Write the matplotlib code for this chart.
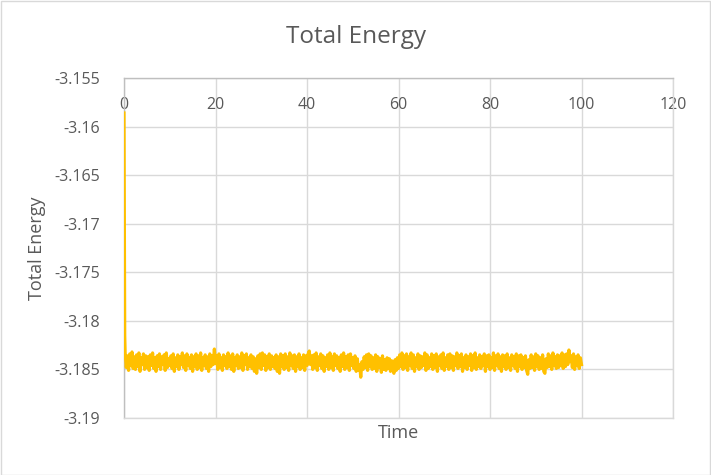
import numpy as np
import matplotlib
matplotlib.use("Agg")
import matplotlib.pyplot as plt
from matplotlib.patches import Rectangle

# ---- data ----
start_time = [0.0, 0.08, 0.16]
start_energy = [-3.1586, -3.1720, -3.1815]

steady_energy = [
    -3.1833, -3.1848, -3.1836, -3.1851, -3.1834, -3.1846, -3.1832, -3.1849, -3.1837, -3.1850,
    -3.1835, -3.1847, -3.1833, -3.1852, -3.1838, -3.1845, -3.1834, -3.1850, -3.1836, -3.1848,
    -3.1837, -3.1851, -3.1835, -3.1846, -3.1833, -3.1849, -3.1838, -3.1852, -3.1836, -3.1847,
    -3.1834, -3.1850, -3.1837, -3.1845, -3.1835, -3.1851, -3.1833, -3.1848, -3.1839, -3.1846,
    -3.1836, -3.1849, -3.1834, -3.1852, -3.1838, -3.1847, -3.1835, -3.1850, -3.1837, -3.1845,
    -3.1833, -3.1848, -3.1836, -3.1851, -3.1834, -3.1846, -3.1838, -3.1849, -3.1835, -3.1852,
    -3.1837, -3.1847, -3.1834, -3.1850, -3.1836, -3.1848, -3.1833, -3.1851, -3.1838, -3.1846,
    -3.1835, -3.1849, -3.1837, -3.1852, -3.1834, -3.1847, -3.1836, -3.1845, -3.1829, -3.1844,
    -3.1836, -3.1850, -3.1834, -3.1848, -3.1838, -3.1851, -3.1835, -3.1846, -3.1837, -3.1849,
    -3.1833, -3.1847, -3.1836, -3.1850, -3.1834, -3.1852, -3.1838, -3.1846, -3.1835, -3.1849,
    -3.1837, -3.1848, -3.1833, -3.1851, -3.1836, -3.1845, -3.1834, -3.1850, -3.1838, -3.1847,
    -3.1835, -3.1849, -3.1837, -3.1852, -3.1839, -3.1854, -3.1836, -3.1848, -3.1834, -3.1850,
    -3.1833, -3.1846, -3.1835, -3.1851, -3.1837, -3.1848, -3.1834, -3.1850, -3.1836, -3.1847,
    -3.1838, -3.1849, -3.1835, -3.1852, -3.1837, -3.1854, -3.1834, -3.1847, -3.1836, -3.1850,
    -3.1834, -3.1848, -3.1837, -3.1851, -3.1833, -3.1846, -3.1836, -3.1849, -3.1835, -3.1852,
    -3.1837, -3.1847, -3.1834, -3.1850, -3.1838, -3.1848, -3.1835, -3.1851, -3.1836, -3.1846,
    -3.1834, -3.1831, -3.1845, -3.1836, -3.1850, -3.1835, -3.1848, -3.1833, -3.1851, -3.1837,
    -3.1846, -3.1834, -3.1849, -3.1836, -3.1852, -3.1838, -3.1847, -3.1835, -3.1850, -3.1833,
    -3.1848, -3.1837, -3.1851, -3.1834, -3.1846, -3.1836, -3.1849, -3.1838, -3.1852, -3.1835,
    -3.1847, -3.1833, -3.1850, -3.1837, -3.1848, -3.1835, -3.1851, -3.1834, -3.1846, -3.1838,
    -3.1849, -3.1836, -3.1852, -3.1839, -3.1851, -3.1845, -3.1858, -3.1842, -3.1850, -3.1837,
    -3.1848, -3.1835, -3.1851, -3.1834, -3.1847, -3.1836, -3.1850, -3.1838, -3.1849, -3.1835,
    -3.1852, -3.1837, -3.1848, -3.1839, -3.1853, -3.1836, -3.1850, -3.1840, -3.1851, -3.1838,
    -3.1849, -3.1839, -3.1852, -3.1841, -3.1850, -3.1854, -3.1840, -3.1851, -3.1838, -3.1849,
    -3.1835, -3.1847, -3.1833, -3.1850, -3.1836, -3.1848, -3.1834, -3.1851, -3.1837, -3.1846,
    -3.1833, -3.1849, -3.1835, -3.1852, -3.1838, -3.1847, -3.1834, -3.1850, -3.1836, -3.1848,
    -3.1837, -3.1846, -3.1833, -3.1851, -3.1835, -3.1849, -3.1838, -3.1847, -3.1834, -3.1850,
    -3.1836, -3.1848, -3.1834, -3.1852, -3.1837, -3.1846, -3.1835, -3.1849, -3.1833, -3.1851,
    -3.1838, -3.1847, -3.1835, -3.1850, -3.1834, -3.1848, -3.1836, -3.1851, -3.1837, -3.1846,
    -3.1833, -3.1849, -3.1836, -3.1847, -3.1834, -3.1852, -3.1838, -3.1848, -3.1835, -3.1850,
    -3.1837, -3.1846, -3.1834, -3.1851, -3.1836, -3.1848, -3.1833, -3.1850, -3.1838, -3.1847,
    -3.1835, -3.1849, -3.1837, -3.1846, -3.1834, -3.1852, -3.1836, -3.1847, -3.1835, -3.1850,
    -3.1838, -3.1848, -3.1833, -3.1851, -3.1836, -3.1846, -3.1834, -3.1849, -3.1837, -3.1852,
    -3.1835, -3.1847, -3.1836, -3.1850, -3.1834, -3.1848, -3.1838, -3.1851, -3.1835, -3.1846,
    -3.1837, -3.1849, -3.1834, -3.1852, -3.1836, -3.1847, -3.1835, -3.1850, -3.1838, -3.1848,
    -3.1836, -3.1851, -3.1855, -3.1840, -3.1849, -3.1835, -3.1848, -3.1837, -3.1851, -3.1834,
    -3.1847, -3.1836, -3.1850, -3.1838, -3.1849, -3.1835, -3.1852, -3.1854, -3.1839, -3.1848,
    -3.1834, -3.1847, -3.1836, -3.1850, -3.1833, -3.1846, -3.1837, -3.1849, -3.1835, -3.1848,
    -3.1836, -3.1846, -3.1833, -3.1849, -3.1835, -3.1847, -3.1834, -3.1845, -3.1830, -3.1842,
    -3.1836, -3.1848, -3.1834, -3.1850, -3.1837, -3.1846, -3.1835, -3.1849, -3.1838, -3.1845,
]
steady_time = np.arange(1, len(steady_energy) + 1) * 0.25

x_ticks = [0, 20, 40, 60, 80, 100, 120]
y_ticks = [-3.19, -3.185, -3.18, -3.175, -3.17, -3.165, -3.16, -3.155]
y_tick_labels = ["-3.19", "-3.185", "-3.18", "-3.175", "-3.17", "-3.165", "-3.16", "-3.155"]

time = np.concatenate([start_time, steady_time])
energy = np.concatenate([start_energy, steady_energy])

# ---- figure ----
plt.rcParams["font.family"] = ["Open Sans", "DejaVu Sans"]
txt = "#595959"
grid_c = "#d9d9d9"
axis_c = "#bfbfbf"

fig = plt.figure(figsize=(7.11, 4.75), dpi=100)
ax = fig.add_axes([124 / 711, 1 - 418 / 475, (673 - 124) / 711, (418 - 78) / 475])

ax.plot(time, energy, color="#FFC000", lw=2.3, solid_joinstyle="round", zorder=3)

ax.set_xlim(0, 120)
ax.set_ylim(-3.19, -3.155)
ax.set_xticks(x_ticks)
ax.set_yticks(y_ticks)
ax.set_yticklabels(y_tick_labels)
ax.grid(True, color=grid_c, lw=1.0, zorder=0)
ax.set_axisbelow(True)

for side in ["bottom", "right"]:
    ax.spines[side].set_color(grid_c)
    ax.spines[side].set_linewidth(1.0)
for side in ["top", "left"]:
    ax.spines[side].set_color(axis_c)
    ax.spines[side].set_linewidth(1.0)

ax.tick_params(axis="x", bottom=False, top=False, labelbottom=False, labeltop=True,
               length=0, pad=-25, labelsize=11.5, labelcolor=txt)
ax.tick_params(axis="y", length=0, pad=17, labelsize=11.5, labelcolor=txt)

ax.set_xlabel("Time", fontsize=13, color=txt, labelpad=4)
ax.set_ylabel("Total Energy", fontsize=13, color=txt, labelpad=6)

fig.text(0.5, 1 - 37 / 475, "Total Energy", ha="center", va="center",
         fontsize=17.5, color=txt)

fig.patches.append(Rectangle((0.001, 0.001), 0.997, 0.997, transform=fig.transFigure,
                             fill=False, edgecolor=grid_c, lw=1.0))

fig.savefig("out.png", dpi=100, facecolor="white")
